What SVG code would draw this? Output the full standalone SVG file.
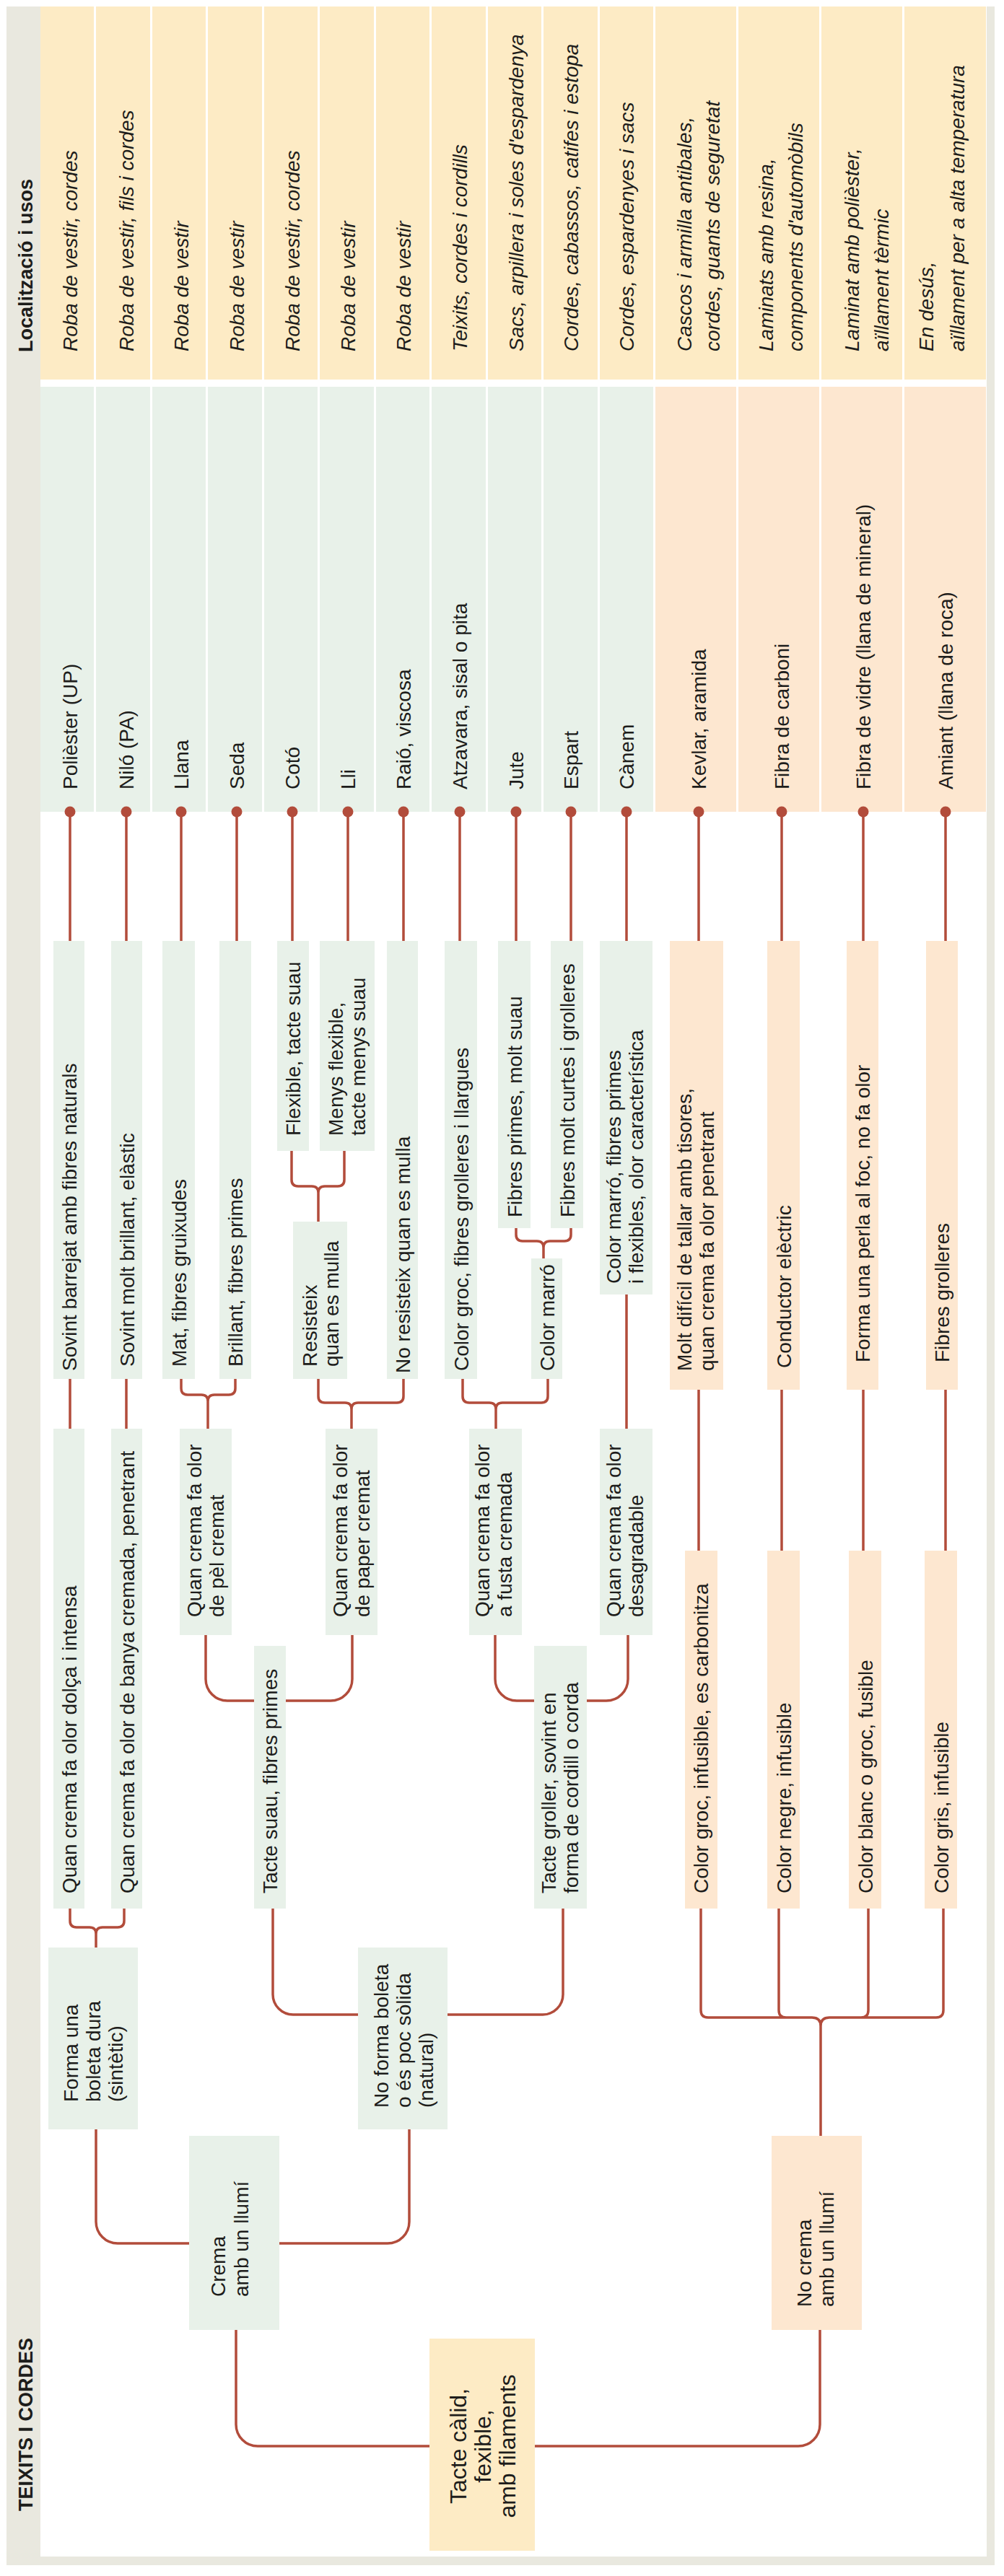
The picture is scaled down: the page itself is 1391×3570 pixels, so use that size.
<svg xmlns="http://www.w3.org/2000/svg" width="1391" height="3570" viewBox="0 0 1391 3570">
<defs>
<style>
.fr{fill:#e9e8df}
.hd{fill:#fdebc5}
.gr{fill:#e8f1e9}
.or{fill:#fde7d0}
.t{font-family:"Liberation Sans",Arial,sans-serif;font-size:28px;fill:#1d1d1b}
.i{font-style:italic}
.ttl{font-family:"Liberation Sans",Arial,sans-serif;font-size:27px;font-weight:bold;fill:#1d1d1b}
.big{font-size:32px}
.c{fill:none;stroke:#b24c3b;stroke-width:3.5}
.dot{fill:#b24c3b}
</style>
</defs>
<rect width="1391" height="3570" fill="#ffffff"/>
<g id="frame">
<rect class="fr" x="9" y="9" width="1369" height="3546"/>
<rect fill="#ffffff" x="56" y="9" width="1311" height="3534"/>
<text class="ttl" transform="translate(45,488) rotate(-90)">Localització i usos</text>
<text class="ttl" transform="translate(45,3480) rotate(-90)">TEIXITS I CORDES</text>
</g>

<g id="col-poliester">
<rect class="hd" x="56" y="9" width="74" height="517"/>
<text class="t i" transform="translate(107,487) rotate(-90)">Roba de vestir, cordes</text>
<rect class="gr" x="56" y="536" width="74" height="589"/>
<text class="t" transform="translate(107,1094) rotate(-90)">Polièster (UP)</text>
</g>
<g id="col-nilo">
<rect class="hd" x="133" y="9" width="75" height="517"/>
<text class="t i" transform="translate(185,487) rotate(-90)">Roba de vestir, fils i cordes</text>
<rect class="gr" x="133" y="536" width="75" height="589"/>
<text class="t" transform="translate(185,1094) rotate(-90)">Niló (PA)</text>
</g>
<g id="col-llana">
<rect class="hd" x="211" y="9" width="74" height="517"/>
<text class="t i" transform="translate(261,487) rotate(-90)">Roba de vestir</text>
<rect class="gr" x="211" y="536" width="74" height="589"/>
<text class="t" transform="translate(261,1094) rotate(-90)">Llana</text>
</g>
<g id="col-seda">
<rect class="hd" x="288" y="9" width="75" height="517"/>
<text class="t i" transform="translate(338,487) rotate(-90)">Roba de vestir</text>
<rect class="gr" x="288" y="536" width="75" height="589"/>
<text class="t" transform="translate(338,1094) rotate(-90)">Seda</text>
</g>
<g id="col-coto">
<rect class="hd" x="366" y="9" width="74" height="517"/>
<text class="t i" transform="translate(415,487) rotate(-90)">Roba de vestir, cordes</text>
<rect class="gr" x="366" y="536" width="74" height="589"/>
<text class="t" transform="translate(415,1094) rotate(-90)">Cotó</text>
</g>
<g id="col-lli">
<rect class="hd" x="443" y="9" width="75" height="517"/>
<text class="t i" transform="translate(492,487) rotate(-90)">Roba de vestir</text>
<rect class="gr" x="443" y="536" width="75" height="589"/>
<text class="t" transform="translate(492,1094) rotate(-90)">Lli</text>
</g>
<g id="col-raio">
<rect class="hd" x="521" y="9" width="74" height="517"/>
<text class="t i" transform="translate(569,487) rotate(-90)">Roba de vestir</text>
<rect class="gr" x="521" y="536" width="74" height="589"/>
<text class="t" transform="translate(569,1094) rotate(-90)">Raió, viscosa</text>
</g>
<g id="col-atzavara">
<rect class="hd" x="598" y="9" width="75" height="517"/>
<text class="t i" transform="translate(647,487) rotate(-90)">Teixits, cordes i cordills</text>
<rect class="gr" x="598" y="536" width="75" height="589"/>
<text class="t" transform="translate(647,1094) rotate(-90)">Atzavara, sisal o pita</text>
</g>
<g id="col-jute">
<rect class="hd" x="676" y="9" width="74" height="517"/>
<text class="t i" transform="translate(725,487) rotate(-90)">Sacs, arpillera i soles d'espardenya</text>
<rect class="gr" x="676" y="536" width="74" height="589"/>
<text class="t" transform="translate(725,1094) rotate(-90)">Jute</text>
</g>
<g id="col-espart">
<rect class="hd" x="753" y="9" width="75" height="517"/>
<text class="t i" transform="translate(801,487) rotate(-90)">Cordes, cabassos, catifes i estopa</text>
<rect class="gr" x="753" y="536" width="75" height="589"/>
<text class="t" transform="translate(801,1094) rotate(-90)">Espart</text>
</g>
<g id="col-canem">
<rect class="hd" x="831" y="9" width="74" height="517"/>
<text class="t i" transform="translate(878,487) rotate(-90)">Cordes, espardenyes i sacs</text>
<rect class="gr" x="831" y="536" width="74" height="589"/>
<text class="t" transform="translate(878,1094) rotate(-90)">Cànem</text>
</g>
<g id="col-kevlar">
<rect class="hd" x="908" y="9" width="112" height="517"/>
<text class="t i" transform="translate(958,487) rotate(-90)"><tspan x="0" y="0">Cascos i armilla antibales,</tspan><tspan x="0" y="39">cordes, guants de seguretat</tspan></text>
<rect class="or" x="908" y="536" width="112" height="589"/>
<text class="t" transform="translate(978,1094) rotate(-90)">Kevlar, aramida</text>
</g>
<g id="col-carboni">
<rect class="hd" x="1023" y="9" width="112" height="517"/>
<text class="t i" transform="translate(1071,487) rotate(-90)"><tspan x="0" y="0">Laminats amb resina,</tspan><tspan x="0" y="41">components d'automòbils</tspan></text>
<rect class="or" x="1023" y="536" width="112" height="589"/>
<text class="t" transform="translate(1093,1094) rotate(-90)">Fibra de carboni</text>
</g>
<g id="col-vidre">
<rect class="hd" x="1138" y="9" width="112" height="517"/>
<text class="t i" transform="translate(1190,487) rotate(-90)"><tspan x="0" y="0">Laminat amb polièster,</tspan><tspan x="0" y="41">aïllament tèrmic</tspan></text>
<rect class="or" x="1138" y="536" width="112" height="589"/>
<text class="t" transform="translate(1206,1094) rotate(-90)">Fibra de vidre (llana de mineral)</text>
</g>
<g id="col-amiant">
<rect class="hd" x="1253" y="9" width="113" height="517"/>
<text class="t i" transform="translate(1293,487) rotate(-90)"><tspan x="0" y="0">En desús,</tspan><tspan x="0" y="43">aïllament per a alta temperatura</tspan></text>
<rect class="or" x="1253" y="536" width="113" height="589"/>
<text class="t" transform="translate(1320,1094) rotate(-90)">Amiant (llana de roca)</text>
</g>

<g id="n-sovint-barrejat"><rect class="gr" x="74" y="1304" width="43" height="607"/><text class="t" transform="translate(105.5,1900) rotate(-90)">Sovint barrejat amb fibres naturals</text></g>
<g id="n-sovint-molt"><rect class="gr" x="154" y="1304" width="43" height="607"/><text class="t" transform="translate(185.5,1894) rotate(-90)">Sovint molt brillant, elàstic</text></g>
<g id="n-mat"><rect class="gr" x="225" y="1304" width="45" height="607"/><text class="t" transform="translate(257.5,1894) rotate(-90)">Mat, fibres gruixudes</text></g>
<g id="n-brillant"><rect class="gr" x="304" y="1304" width="44" height="607"/><text class="t" transform="translate(336,1894) rotate(-90)">Brillant, fibres primes</text></g>
<g id="n-flexible"><rect class="gr" x="384" y="1304" width="44" height="291"/><text class="t" transform="translate(416,1574) rotate(-90)">Flexible, tacte suau</text></g>
<g id="n-menys"><rect class="gr" x="443" y="1304" width="76" height="291"/><text class="t" transform="translate(475,1574) rotate(-90)"><tspan x="0" y="0">Menys flexible,</tspan><tspan x="0" y="31">tacte menys suau</tspan></text></g>
<g id="n-resisteix"><rect class="gr" x="406" y="1693" width="75" height="218"/><text class="t" transform="translate(438.5,1894) rotate(-90)"><tspan x="0" y="0">Resisteix</tspan><tspan x="0" y="30.5">quan es mulla</tspan></text></g>
<g id="n-no-resisteix"><rect class="gr" x="536" y="1304" width="43" height="607"/><text class="t" transform="translate(567.5,1903) rotate(-90)">No resisteix quan es mulla</text></g>
<g id="n-color-groc-fibres"><rect class="gr" x="616" y="1304" width="45" height="607"/><text class="t" transform="translate(648.5,1900) rotate(-90)">Color groc, fibres grolleres i llargues</text></g>
<g id="n-fibres-primes-suau"><rect class="gr" x="690" y="1304" width="45" height="398"/><text class="t" transform="translate(722.5,1687) rotate(-90)">Fibres primes, molt suau</text></g>
<g id="n-fibres-curtes"><rect class="gr" x="763" y="1304" width="45" height="398"/><text class="t" transform="translate(795.5,1687) rotate(-90)">Fibres molt curtes i grolleres</text></g>
<g id="n-color-marro"><rect class="gr" x="736" y="1744" width="43" height="167"/><text class="t" transform="translate(767.5,1900) rotate(-90)">Color marró</text></g>
<g id="n-color-marro-fibres"><rect class="gr" x="831" y="1304" width="73" height="490"/><text class="t" transform="translate(860,1779) rotate(-90)"><tspan x="0" y="0">Color marró, fibres primes</tspan><tspan x="0" y="31">i flexibles, olor característica</tspan></text></g>
<g id="n-molt-dificil"><rect class="or" x="928" y="1304" width="74" height="622"/><text class="t" transform="translate(958,1900) rotate(-90)"><tspan x="0" y="0">Molt difícil de tallar amb tisores,</tspan><tspan x="0" y="31">quan crema fa olor penetrant</tspan></text></g>
<g id="n-conductor"><rect class="or" x="1063" y="1304" width="45" height="622"/><text class="t" transform="translate(1095.5,1896) rotate(-90)">Conductor elèctric</text></g>
<g id="n-perla"><rect class="or" x="1173" y="1304" width="44" height="622"/><text class="t" transform="translate(1205,1888) rotate(-90)">Forma una perla al foc, no fa olor</text></g>
<g id="n-fibres-grolleres"><rect class="or" x="1283" y="1304" width="44" height="622"/><text class="t" transform="translate(1315,1888) rotate(-90)">Fibres grolleres</text></g>

<g id="n-olor-dolca"><rect class="gr" x="74" y="1980" width="43" height="665"/><text class="t" transform="translate(105.5,2624) rotate(-90)">Quan crema fa olor dolça i intensa</text></g>
<g id="n-olor-banya"><rect class="gr" x="154" y="1980" width="43" height="665"/><text class="t" transform="translate(185.5,2624) rotate(-90)">Quan crema fa olor de banya cremada, penetrant</text></g>
<g id="n-olor-pel"><rect class="gr" x="249" y="1980" width="72" height="286"/><text class="t" transform="translate(279,2241) rotate(-90)"><tspan x="0" y="0">Quan crema fa olor</tspan><tspan x="0" y="31">de pèl cremat</tspan></text></g>
<g id="n-olor-paper"><rect class="gr" x="451" y="1980" width="72" height="286"/><text class="t" transform="translate(481,2241) rotate(-90)"><tspan x="0" y="0">Quan crema fa olor</tspan><tspan x="0" y="31">de paper cremat</tspan></text></g>
<g id="n-olor-fusta"><rect class="gr" x="650" y="1980" width="73" height="286"/><text class="t" transform="translate(678,2241) rotate(-90)"><tspan x="0" y="0">Quan crema fa olor</tspan><tspan x="0" y="31">a fusta cremada</tspan></text></g>
<g id="n-olor-desagradable"><rect class="gr" x="831" y="1980" width="73" height="286"/><text class="t" transform="translate(860,2241) rotate(-90)"><tspan x="0" y="0">Quan crema fa olor</tspan><tspan x="0" y="31">desagradable</tspan></text></g>
<g id="n-groc-infusible"><rect class="or" x="949" y="2149" width="45" height="496"/><text class="t" transform="translate(981,2624) rotate(-90)">Color groc, infusible, es carbonitza</text></g>
<g id="n-negre-infusible"><rect class="or" x="1063" y="2149" width="45" height="496"/><text class="t" transform="translate(1095.5,2624) rotate(-90)">Color negre, infusible</text></g>
<g id="n-blanc-fusible"><rect class="or" x="1176" y="2149" width="45" height="496"/><text class="t" transform="translate(1208.5,2624) rotate(-90)">Color blanc o groc, fusible</text></g>
<g id="n-gris-infusible"><rect class="or" x="1281" y="2149" width="45" height="496"/><text class="t" transform="translate(1313.5,2624) rotate(-90)">Color gris, infusible</text></g>

<g id="n-tacte-suau"><rect class="gr" x="352" y="2281" width="44" height="364"/><text class="t" transform="translate(384,2624) rotate(-90)">Tacte suau, fibres primes</text></g>
<g id="n-tacte-groller"><rect class="gr" x="740" y="2281" width="73" height="364"/><text class="t" transform="translate(770,2624) rotate(-90)"><tspan x="0" y="0">Tacte groller, sovint en</tspan><tspan x="0" y="31">forma de cordill o corda</tspan></text></g>
<g id="n-boleta-dura"><rect class="gr" x="67" y="2699" width="124" height="252"/><text class="t" transform="translate(107.5,2913) rotate(-90)"><tspan x="0" y="0">Forma una</tspan><tspan x="0" y="31">boleta dura</tspan><tspan x="0" y="62">(sintètic)</tspan></text></g>
<g id="n-no-boleta"><rect class="gr" x="496" y="2699" width="124" height="252"/><text class="t" transform="translate(538,2921) rotate(-90)"><tspan x="0" y="0">No forma boleta</tspan><tspan x="0" y="31">o és poc sòlida</tspan><tspan x="0" y="62">(natural)</tspan></text></g>

<g id="n-crema"><rect class="gr" x="262" y="2960" width="125" height="269"/><text class="t" transform="translate(312,3183) rotate(-90)"><tspan x="0" y="0">Crema</tspan><tspan x="0" y="32">amb un llumí</tspan></text></g>
<g id="n-no-crema"><rect class="or" x="1069" y="2960" width="125" height="269"/><text class="t" transform="translate(1124,3197) rotate(-90)"><tspan x="0" y="0">No crema</tspan><tspan x="0" y="31">amb un llumí</tspan></text></g>

<g id="n-root"><rect class="hd" x="595" y="3241" width="146" height="294"/><text class="t big" text-anchor="middle" transform="translate(646,3390) rotate(-90)"><tspan x="0" y="0">Tacte càlid,</tspan><tspan x="0" y="34">fexible,</tspan><tspan x="0" y="68">amb filaments</tspan></text></g>

<g id="connectors">
<path class="c" d="M97,1125V1304M175,1125V1304M251,1125V1304M328,1125V1304M405,1125V1304M482,1125V1304M559,1125V1304M637,1125V1304M715,1125V1304M791,1125V1304M868,1125V1304M968,1125V1304M1083,1125V1304M1196,1125V1304M1310,1125V1304"/>
<path class="c" d="M97,1911V1980M175,1911V1980M868,1794V1980M968,1926V2149M1083,1926V2149M1196,1926V2149M1310,1926V2149"/>
<path class="c" d="M251,1911V1924Q251,1933 260,1933H279Q288,1933 288,1942V1980M326,1911V1924Q326,1933 317,1933H297Q288,1933 288,1942"/>
<path class="c" d="M404,1595V1635Q404,1644 413,1644H432Q441,1644 441,1653V1693M477,1595V1635Q477,1644 468,1644H450Q441,1644 441,1653"/>
<path class="c" d="M441,1911V1935Q441,1944 450,1944H478Q487,1944 487,1953V1980M559,1911V1935Q559,1944 550,1944H496Q487,1944 487,1953"/>
<path class="c" d="M641,1911V1935Q641,1944 650,1944H678Q687,1944 687,1953V1980M759,1911V1935Q759,1944 750,1944H696Q687,1944 687,1953"/>
<path class="c" d="M715,1702V1711Q715,1720 724,1720H744Q753,1720 753,1729V1744M791,1702V1711Q791,1720 782,1720H762Q753,1720 753,1729"/>
<path class="c" d="M97,2645V2662Q97,2671 106,2671H124Q133,2671 133,2680V2699M172,2645V2662Q172,2671 163,2671H142Q133,2671 133,2680"/>
<path class="c" d="M285,2266V2327A30,30 0 0 0 315,2357H352M488,2266V2327A30,30 0 0 1 458,2357H396"/>
<path class="c" d="M686,2266V2327A30,30 0 0 0 716,2357H740M870,2266V2327A30,30 0 0 1 840,2357H813"/>
<path class="c" d="M378,2645V2764A28,28 0 0 0 406,2792H496M780,2645V2764A28,28 0 0 1 752,2792H620"/>
<path class="c" d="M971,2645V2786Q971,2796 981,2796H1125Q1137,2796 1137,2808V2960M1307,2645V2786Q1307,2796 1297,2796H1149Q1137,2796 1137,2808M1079,2645V2786Q1079,2796 1089,2796M1203,2645V2786Q1203,2796 1193,2796"/>
<path class="c" d="M133,2951V3079A30,30 0 0 0 163,3109H262M567,2951V3079A30,30 0 0 1 537,3109H387"/>
<path class="c" d="M327,3229V3360A30,30 0 0 0 357,3390H595M1136,3229V3360A30,30 0 0 1 1106,3390H741"/>
<circle class="dot" cx="97" cy="1125" r="7.5"/><circle class="dot" cx="175" cy="1125" r="7.5"/><circle class="dot" cx="251" cy="1125" r="7.5"/><circle class="dot" cx="328" cy="1125" r="7.5"/><circle class="dot" cx="405" cy="1125" r="7.5"/><circle class="dot" cx="482" cy="1125" r="7.5"/><circle class="dot" cx="559" cy="1125" r="7.5"/><circle class="dot" cx="637" cy="1125" r="7.5"/><circle class="dot" cx="715" cy="1125" r="7.5"/><circle class="dot" cx="791" cy="1125" r="7.5"/><circle class="dot" cx="868" cy="1125" r="7.5"/><circle class="dot" cx="968" cy="1125" r="7.5"/><circle class="dot" cx="1083" cy="1125" r="7.5"/><circle class="dot" cx="1196" cy="1125" r="7.5"/><circle class="dot" cx="1310" cy="1125" r="7.5"/>
</g>
</svg>
